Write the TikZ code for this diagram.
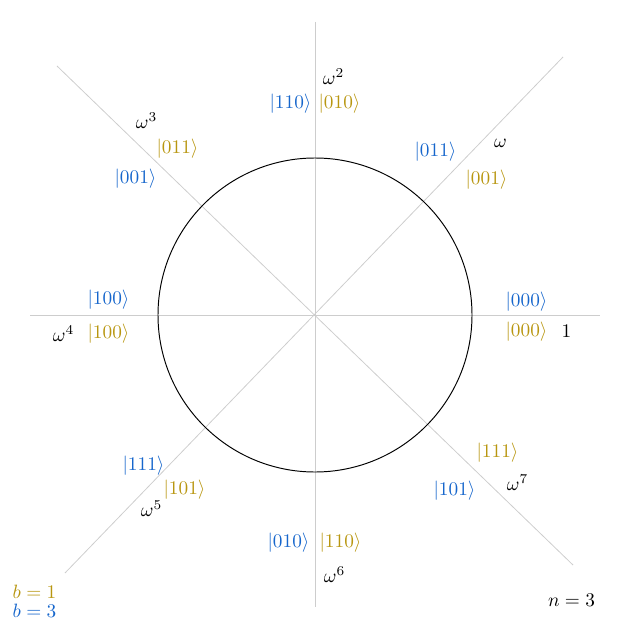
\documentclass[tikz,border=0pt]{standalone}
\definecolor{qblue}{RGB}{22,102,204}
\definecolor{qgold}{RGB}{184,150,16}
\definecolor{axisgray}{RGB}{205,205,205}
\begin{document}
\begin{tikzpicture}[x=0.5185pt,y=-0.5185pt,
  axisline/.style={draw=axisgray,line width=0.4pt},
  bl/.style={text=qblue,inner sep=0pt},
  gd/.style={text=qgold,inner sep=0pt},
  wl/.style={text=black,inner sep=0pt}]
\useasboundingbox (0,0) rectangle (630,630);
\coordinate (O) at (315,315);
\coordinate (E) at (600,315);
\coordinate (W) at (30,315);
\coordinate (N) at (315,22);
\coordinate (S) at (315,607);
\coordinate (NW) at (57,66);
\coordinate (SE) at (573,565);
\coordinate (NE) at (563,57);
\coordinate (SW) at (65,573);
\draw[axisline] (W) -- (E);
\draw[axisline] (N) -- (S);
\draw[axisline] (NW) -- (SE);
\draw[axisline] (NE) -- (SW);
\node[draw,circle,minimum size=314*0.5185pt,inner sep=0pt,line width=0.5pt] (C) at (O) {};
\begin{scope}[shift={(1.5,2)}]
% k = 0
\node[bl] (b0) at (525,300) {$|000\rangle$};
\node[gd] (g0) at (525,330) {$|000\rangle$};
\node[wl] (w0) at (565,329) {$1$};
% k = 1
\node[bl] (b1) at (434,150) {$|011\rangle$};
\node[gd] (g1) at (485,178) {$|001\rangle$};
\node[wl] (w1) at (499,141) {$\omega$};
% k = 2
\node[bl] (b2) at (289,102) {$|110\rangle$};
\node[gd] (g2) at (338,102) {$|010\rangle$};
\node[wl] (w2) at (332,75) {$\omega^2$};
% k = 3
\node[bl] (b3) at (134,177) {$|001\rangle$};
\node[gd] (g3) at (176,147) {$|011\rangle$};
\node[wl] (w3) at (145,119) {$\omega^3$};
% k = 4
\node[bl] (b4) at (107,298) {$|100\rangle$};
\node[gd] (g4) at (107,332) {$|100\rangle$};
\node[wl] (w4) at (62,332) {$\omega^4$};
% k = 5
\node[bl] (b5) at (142,464) {$|111\rangle$};
\node[gd] (g5) at (183,488) {$|101\rangle$};
\node[wl] (w5) at (150,507) {$\omega^5$};
% k = 6
\node[bl] (b6) at (287,541) {$|010\rangle$};
\node[gd] (g6) at (339,541) {$|110\rangle$};
\node[wl] (w6) at (333,573) {$\omega^6$};
% k = 7
\node[bl] (b7) at (453,489) {$|101\rangle$};
\node[gd] (g7) at (496,451) {$|111\rangle$};
\node[wl] (w7) at (516,481) {$\omega^7$};
% legend
\node[gd] (lb1) at (33,590) {$b=1$};
\node[bl] (lb3) at (33,609) {$b=3$};
\node[wl] (n3) at (570,598) {$n=3$};
\end{scope}
\end{tikzpicture}
\end{document}
